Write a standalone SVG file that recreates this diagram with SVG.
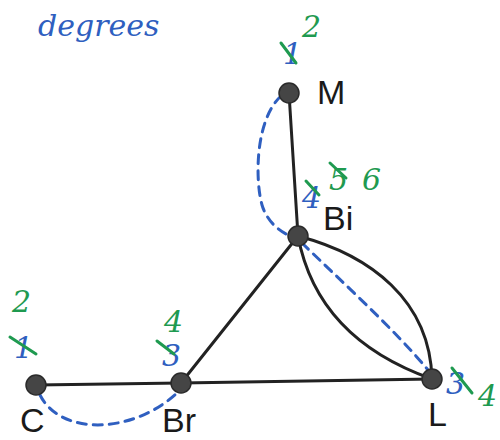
<svg xmlns="http://www.w3.org/2000/svg" width="500" height="440" viewBox="0 0 500 440">
<style>
.edge{fill:none;stroke:#222;stroke-width:3;stroke-linecap:round}
.walk{fill:none;stroke:#2f5fc0;stroke-width:3;stroke-dasharray:9 7;stroke-linecap:round}
.node{fill:#454545;stroke:#2a2a2a;stroke-width:1.5}
.lbl{font-family:"Liberation Sans",Arial,sans-serif;font-size:34px;fill:#1a1a1a}
.hb{font-family:"DejaVu Serif",serif;font-style:italic;font-size:30px;fill:#2f5fc0}
.hg{font-family:"DejaVu Serif",serif;font-style:italic;font-size:30px;fill:#1f9a50}
.strike{stroke:#1f9a50;stroke-width:3;stroke-linecap:round;fill:none}
</style>
<rect width="500" height="440" fill="#fff"/>
<text class="hb" x="38" y="36">degrees</text>
<g id="connectors">
<path class="edge" d="M289,93 L298,236"/>
<path class="edge" d="M298,236 L181,383"/>
<path class="edge" d="M36,385 L181,383"/>
<path class="edge" d="M181,383 L432,379"/>
<path class="edge" d="M298,236 C370,255 430,300 432,379"/>
<path class="edge" d="M298,236 C310,300 350,350 432,379"/>
<path class="walk" d="M281,96 C255,120 255,180 262,205 C268,225 285,235 296,238"/>
<path class="walk" d="M302,243 C340,280 395,330 428,370"/>
<path class="walk" d="M40,395 C60,435 130,435 176,394"/>
</g>
<g id="node-M"><circle class="node" cx="289" cy="93" r="10"/><text class="lbl" x="317" y="104">M</text>
<text class="hb" x="283" y="64">1</text><path class="strike" d="M281,43 L296,63"/><text class="hg" x="302" y="37">2</text></g>
<g id="node-Bi"><circle class="node" cx="298" cy="236" r="10"/><text class="lbl" x="323" y="230">Bi</text>
<text class="hb" x="302" y="208">4</text><path class="strike" d="M306,181 L319,195"/><text class="hg" x="329" y="190">5</text><path class="strike" d="M330,163 L346,178"/><text class="hg" x="362" y="190">6</text></g>
<g id="node-C"><circle class="node" cx="36" cy="385" r="10"/><text class="lbl" x="20" y="432">C</text>
<text class="hb" x="14" y="358">1</text><path class="strike" d="M10,337 L36,354"/><text class="hg" x="12" y="312">2</text></g>
<g id="node-Br"><circle class="node" cx="181" cy="383" r="10"/><text class="lbl" x="162" y="432">Br</text>
<text class="hb" x="162" y="366">3</text><path class="strike" d="M157,341 L174,354"/><text class="hg" x="164" y="332">4</text></g>
<g id="node-L"><circle class="node" cx="432" cy="379" r="10"/><text class="lbl" x="428" y="426">L</text>
<text class="hb" x="446" y="394">3</text><path class="strike" d="M452,368 L472,393"/><text class="hg" x="478" y="406">4</text></g>
</svg>
